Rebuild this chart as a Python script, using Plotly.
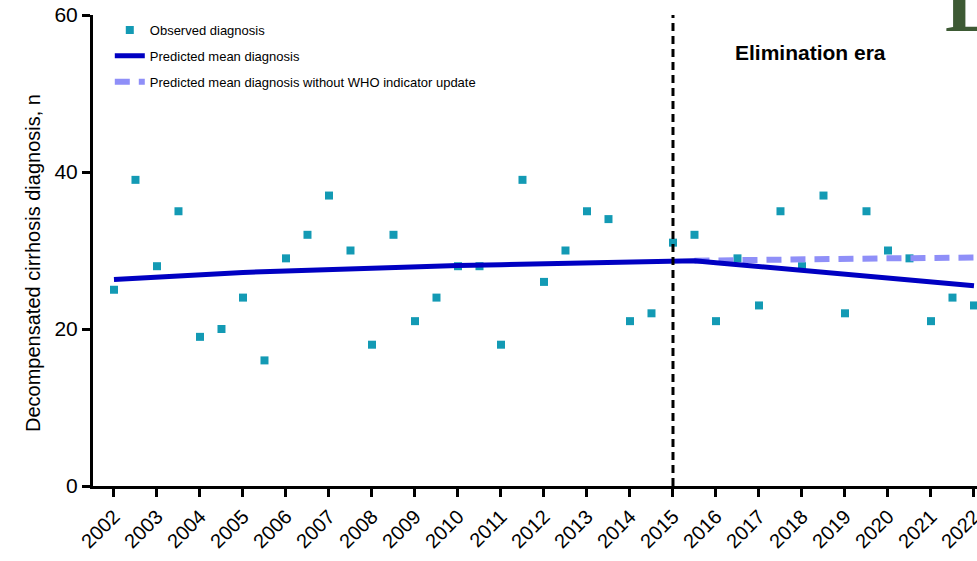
import plotly.graph_objects as go

# Observed diagnoses, recorded every half year
obs_years = [2002 + 0.5 * i for i in range(41)]
obs_counts = [25, 39, 28, 35, 19, 20, 24, 16, 29, 32,
              37, 30, 18, 32, 21, 24, 28, 28, 18, 39,
              26, 30, 35, 34, 21, 22, 31, 32, 21, 29,
              23, 35, 28, 37, 22, 35, 30, 29, 21, 24, 23]

# Predicted mean diagnosis (segmented model, break at 2015)
pred_years = [2002, 2003, 2004, 2005, 2006, 2007, 2008, 2009, 2010, 2011,
              2012, 2013, 2014, 2015, 2015.5, 2016, 2017, 2018, 2019, 2020,
              2021, 2022]
pred_mean = [26.3, 26.65, 26.95, 27.2, 27.4, 27.6, 27.8, 27.95, 28.1, 28.2,
             28.3, 28.4, 28.5, 28.6, 28.7, 28.45, 27.95, 27.45, 26.95, 26.45,
             25.95, 25.5]

# Counterfactual: no WHO indicator update
cf_years = [2015.5, 2016, 2017, 2018, 2019, 2020, 2021, 2022]
cf_mean = [28.7, 28.75, 28.8, 28.9, 28.95, 29.0, 29.05, 29.1]

year_ticks = list(range(2002, 2023))
y_ticks = [0, 20, 40, 60]
era_start = 2015

fig = go.Figure()

fig.add_trace(go.Scatter(
    x=obs_years, y=obs_counts, mode="markers",
    name="Observed diagnosis", legendgroup="a", legendrank=1,
    marker=dict(symbol="square", size=8, color="#139ab4"),
    cliponaxis=False,
))
fig.add_trace(go.Scatter(
    x=cf_years, y=cf_mean, mode="lines",
    name="Predicted mean diagnosis without WHO indicator update",
    legendgroup="c", legendrank=3,
    line=dict(color="#8f8ff8", width=6, dash="15px,9px"),
))
fig.add_trace(go.Scatter(
    x=pred_years, y=pred_mean, mode="lines",
    name="Predicted mean diagnosis", legendgroup="b", legendrank=2,
    line=dict(color="#0000c2", width=5),
))

# Start of the elimination era
fig.add_shape(type="line", x0=era_start, x1=era_start, y0=0, y1=60,
              xref="x", yref="y",
              line=dict(color="black", width=3, dash="8px,5px"))

fig.add_annotation(x=2018.2, y=55.2, xref="x", yref="y",
                   text="<b>Elimination era</b>", showarrow=False,
                   font=dict(family="Arial, Liberation Sans", size=21, color="black"),
                   xanchor="center", yanchor="middle")

fig.add_annotation(x=0.962, y=1.0, xref="paper", yref="paper",
                   text="<b>L</b>", showarrow=False, xanchor="left", yanchor="bottom",
                   yshift=-35,
                   font=dict(family="Liberation Serif", size=80, color="#3d5a34"))

# Y-axis title, placed in plot-fraction units
fig.add_annotation(x=(33 - 93) / 884, y=1 - (263 - 15) / 471,
                   xref="paper", yref="paper",
                   text="Decompensated cirrhosis diagnosis, n", showarrow=False,
                   textangle=-90, xanchor="center", yanchor="middle",
                   font=dict(size=20, color="black"))

fig.update_layout(
    width=977, height=561,
    margin=dict(l=93, r=0, t=15, b=75, autoexpand=False),
    paper_bgcolor="white", plot_bgcolor="white",
    font=dict(family="Arial, Liberation Sans", color="black"),
    showlegend=True,
    legend=dict(x=0.019, y=1.0, xanchor="left", yanchor="top",
                traceorder="grouped", tracegroupgap=6,
                font=dict(size=13, color="black"),
                bgcolor="rgba(0,0,0,0)"),
    xaxis=dict(range=[2001.512, 2022.07], tickmode="array",
               tickvals=year_ticks, ticktext=[str(y) for y in year_ticks],
               tickangle=-45, ticks="outside", ticklen=8, tickwidth=3,
               tickcolor="black", showline=True, linecolor="black",
               linewidth=3, showgrid=False, zeroline=False, automargin=False,
               ticklabeloverflow="allow", tickfont=dict(size=20)),
    yaxis=dict(range=[0, 60], tickmode="array", tickvals=y_ticks,
               ticks="outside", ticklen=8, tickwidth=3, tickcolor="black",
               showline=True, linecolor="black", linewidth=3, automargin=False,
               showgrid=False, zeroline=False, tickfont=dict(size=21)),
)

fig.write_html("out.html")
